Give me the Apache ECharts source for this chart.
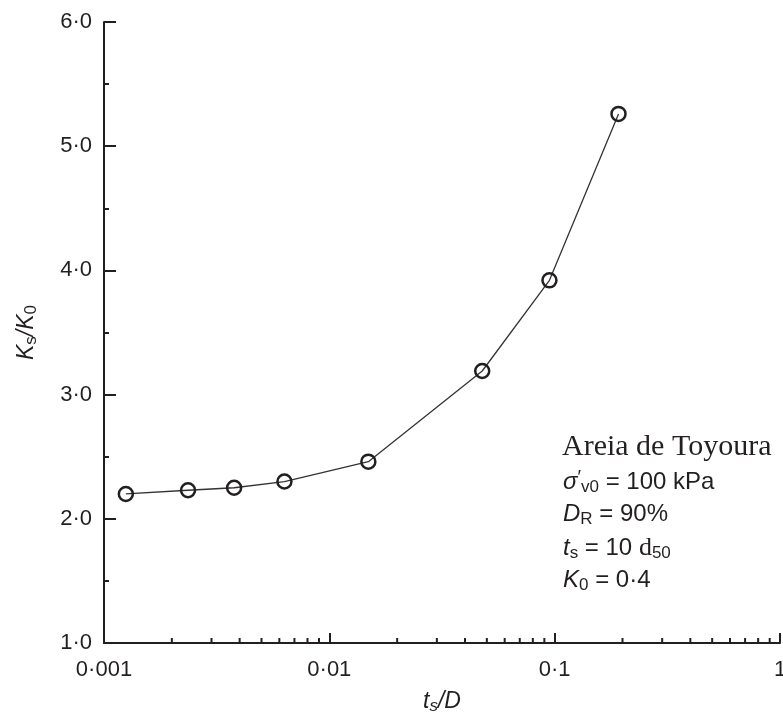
<!DOCTYPE html>
<html>
<head>
<meta charset="utf-8">
<script src="https://cdn.jsdelivr.net/npm/echarts@6/dist/echarts.min.js"></script>
<style>
html,body{margin:0;padding:0;background:#fff;}
#chart{width:783px;height:716px;}
</style>
</head>
<body>
<div id="chart"></div>
<script>
// Data
const tsOverD = [0.00125, 0.00236, 0.00378, 0.00632, 0.0149, 0.0477, 0.0948, 0.192];
const ksOverK0 = [2.20, 2.23, 2.25, 2.30, 2.46, 3.19, 3.92, 5.26];
const xTickLabels = {'-3': '0·001', '-2': '0·01', '-1': '0·1', '0': '1'};
const yTickValues = [1, 2, 3, 4, 5, 6];
const decadeStarts = [0.001, 0.01, 0.1];
const minorMultipliers = [2, 3, 4, 5, 6, 7, 8, 9];

const ink = '#231f20';
const sans = '"Liberation Sans", Arial, sans-serif';
const serif = '"Liberation Serif", "Times New Roman", serif';

const minorXTicks = [];
decadeStarts.forEach(d => minorMultipliers.forEach(m => minorXTicks.push([d * m])));

const chart = echarts.init(document.getElementById('chart'), null, {renderer: 'canvas'});

function richLine(text, y) {
  return {
    type: 'text',
    left: 563,
    top: y,
    z: 100,
    style: {
      text: text,
      fill: ink,
      font: '24px ' + sans,
      verticalAlign: 'middle',
      rich: {
        n: {fontFamily: sans, fontSize: 24, lineHeight: 28, color: ink, verticalAlign: 'middle'},
        i: {fontFamily: sans, fontSize: 24, fontStyle: 'italic', lineHeight: 28, color: ink, verticalAlign: 'middle'},
        d: {fontFamily: serif, fontSize: 26, lineHeight: 28, color: ink, verticalAlign: 'middle'},
        sub: {fontFamily: sans, fontSize: 17, lineHeight: 12, color: ink, verticalAlign: 'bottom'},
        sup: {fontFamily: sans, fontSize: 19, lineHeight: 12, color: ink, verticalAlign: 'top'}
      }
    }
  };
}

const option = {
  backgroundColor: '#ffffff',
  animation: false,
  grid: {left: 104, right: 3, top: 22, bottom: 73, containLabel: false, outerBoundsMode: 'none'},
  xAxis: {
    type: 'log',
    logBase: 10,
    min: 0.001,
    max: 1,
    name: '{i|t}{sub|s}{i|/D}',
    nameLocation: 'middle',
    nameGap: 46,
    nameTextStyle: {
      rich: {
        i: {fontFamily: sans, fontSize: 23, fontStyle: 'italic', color: ink, lineHeight: 26, verticalAlign: 'middle'},
        sub: {fontFamily: sans, fontSize: 17, fontStyle: 'italic', color: ink, lineHeight: 12, verticalAlign: 'bottom'}
      }
    },
    axisLine: {show: true, onZero: false, lineStyle: {color: ink, width: 2}},
    axisTick: {show: true, inside: true, length: 10, lineStyle: {color: ink, width: 2}},
    axisLabel: {
      show: true,
      margin: 16,
      fontFamily: sans,
      fontSize: 22,
      color: ink,
      formatter: function (v) {
        const k = String(Math.round(Math.log10(v)));
        return xTickLabels[k] !== undefined ? xTickLabels[k] : '';
      }
    },
    splitLine: {show: false},
    minorTick: {show: false}
  },
  yAxis: {
    type: 'value',
    min: 1,
    max: 6,
    interval: 1,
    name: '{i|K}{sub|s}{i|/K}{sub|0}',
    nameLocation: 'middle',
    nameGap: 64,
    nameTextStyle: {
      rich: {
        i: {fontFamily: sans, fontSize: 23, fontStyle: 'italic', color: ink, lineHeight: 26, verticalAlign: 'middle'},
        sub: {fontFamily: sans, fontSize: 17, color: ink, lineHeight: 12, verticalAlign: 'bottom'}
      }
    },
    axisLine: {show: true, onZero: false, lineStyle: {color: ink, width: 2}},
    axisTick: {show: true, inside: true, length: 12, lineStyle: {color: ink, width: 2}},
    minorTick: {show: true, splitNumber: 2, length: 5, lineStyle: {color: ink, width: 2}},
    axisLabel: {
      show: true,
      margin: 12,
      padding: [6, 0, 0, 0],
      fontFamily: sans,
      fontSize: 22,
      color: ink,
      formatter: function (v) {
        return yTickValues.indexOf(v) >= 0 ? v.toFixed(1).replace('.', '·') : '';
      }
    },
    splitLine: {show: false},
    minorSplitLine: {show: false}
  },
  series: [
    {
      type: 'line',
      data: tsOverD.map((x, i) => [x, ksOverK0[i]]),
      symbol: 'circle',
      symbolSize: 14,
      showSymbol: true,
      lineStyle: {color: '#333333', width: 1.3},
      itemStyle: {color: 'rgba(255,255,255,0)', borderColor: ink, borderWidth: 2.5, opacity: 1},
      z: 10,
      clip: false
    },
    {
      type: 'custom',
      silent: true,
      clip: false,
      data: minorXTicks,
      encode: {x: 0},
      renderItem: function (params, api) {
        const p = api.coord([api.value(0), 1]);
        return {
          type: 'line',
          shape: {x1: p[0], y1: p[1], x2: p[0], y2: p[1] - 5},
          style: {stroke: ink, lineWidth: 2}
        };
      },
      z: 5
    }
  ],
  graphic: [
    {
      type: 'text',
      left: 562,
      top: 432,
      z: 100,
      style: {text: 'Areia de Toyoura', fill: ink, font: '30px ' + serif}
    },
    richLine('{i|σ}{sup|′}{sub|v0}{n| = 100 kPa}', 468),
    richLine('{i|D}{sub|R}{n| = 90%}', 502),
    richLine('{i|t}{sub|s}{n| = 10 }{d|d}{sub|50}', 535),
    richLine('{i|K}{sub|0}{n| = 0·4}', 568)
  ]
};

chart.setOption(option);
</script>
</body>
</html>
